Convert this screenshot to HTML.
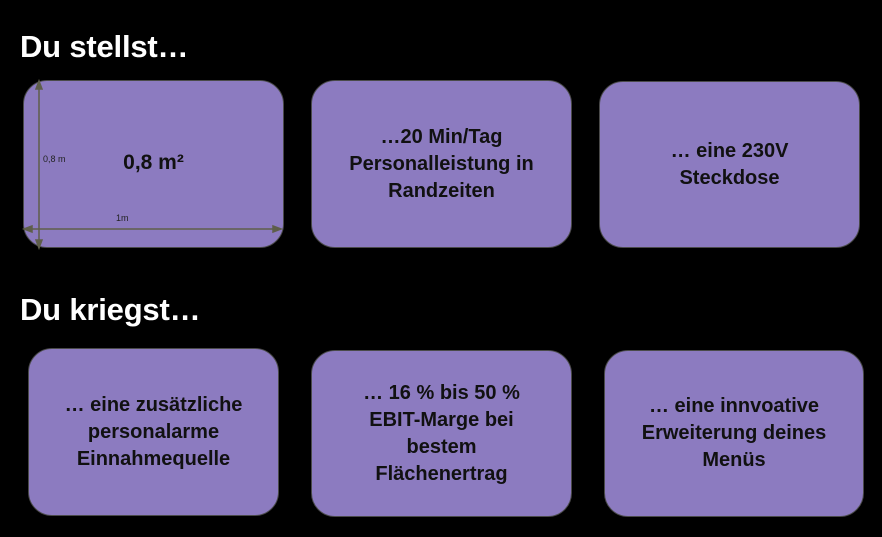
<!DOCTYPE html>
<html><head><meta charset="utf-8"><style>
body{margin:0;width:882px;height:537px;background:#000;position:relative;overflow:hidden;font-family:"Liberation Sans",sans-serif}
.h{position:absolute;left:20px;color:#fff;font-weight:bold;font-size:31px;letter-spacing:-0.2px}
.b{position:absolute;box-sizing:border-box;background:#8c7bc0;border:1.5px solid #4a4a4a;border-radius:24px;display:flex;align-items:center;justify-content:center;text-align:center;font-weight:bold;font-size:20px;line-height:27px;color:#111}
</style></head><body>
<div class="h" style="top:29px">Du stellst…</div>
<div class="h" style="top:292px">Du kriegst…</div>
<div class="b" style="left:23px;top:80px;width:261px;height:168px"><span style="position:relative;top:-2px;font-size:21px">0,8 m²</span></div>
<svg style="position:absolute;left:0;top:0" width="882" height="537">
<g stroke="#5e5e4a" stroke-width="1.5" fill="#5e5e4a">
<line x1="39" y1="84" x2="39" y2="246"/>
<polygon points="39,81 36,89 42,89"/><polygon points="39,248 36,240 42,240"/>
<line x1="27" y1="229" x2="278" y2="229"/>
<polygon points="24,229 32,226 32,232"/><polygon points="281,229 273,226 273,232"/>
</g>
<text x="43" y="162" font-size="9" fill="#222" font-family="Liberation Sans">0,8 m</text>
<text x="116" y="221" font-size="9" fill="#222" font-family="Liberation Sans">1m</text>
</svg>
<div class="b" style="left:311px;top:80px;width:261px;height:168px">…20 Min/Tag<br>Personalleistung in<br>Randzeiten</div>
<div class="b" style="left:599px;top:81px;width:261px;height:167px">… eine 230V<br>Steckdose</div>
<div class="b" style="left:28px;top:348px;width:251px;height:168px">… eine zusätzliche<br>personalarme<br>Einnahmequelle</div>
<div class="b" style="left:311px;top:350px;width:261px;height:167px">… 16 % bis 50 %<br>EBIT-Marge bei<br>bestem<br>Flächenertrag</div>
<div class="b" style="left:604px;top:350px;width:260px;height:167px">… eine innvoative<br>Erweiterung deines<br>Menüs</div>
</body></html>
